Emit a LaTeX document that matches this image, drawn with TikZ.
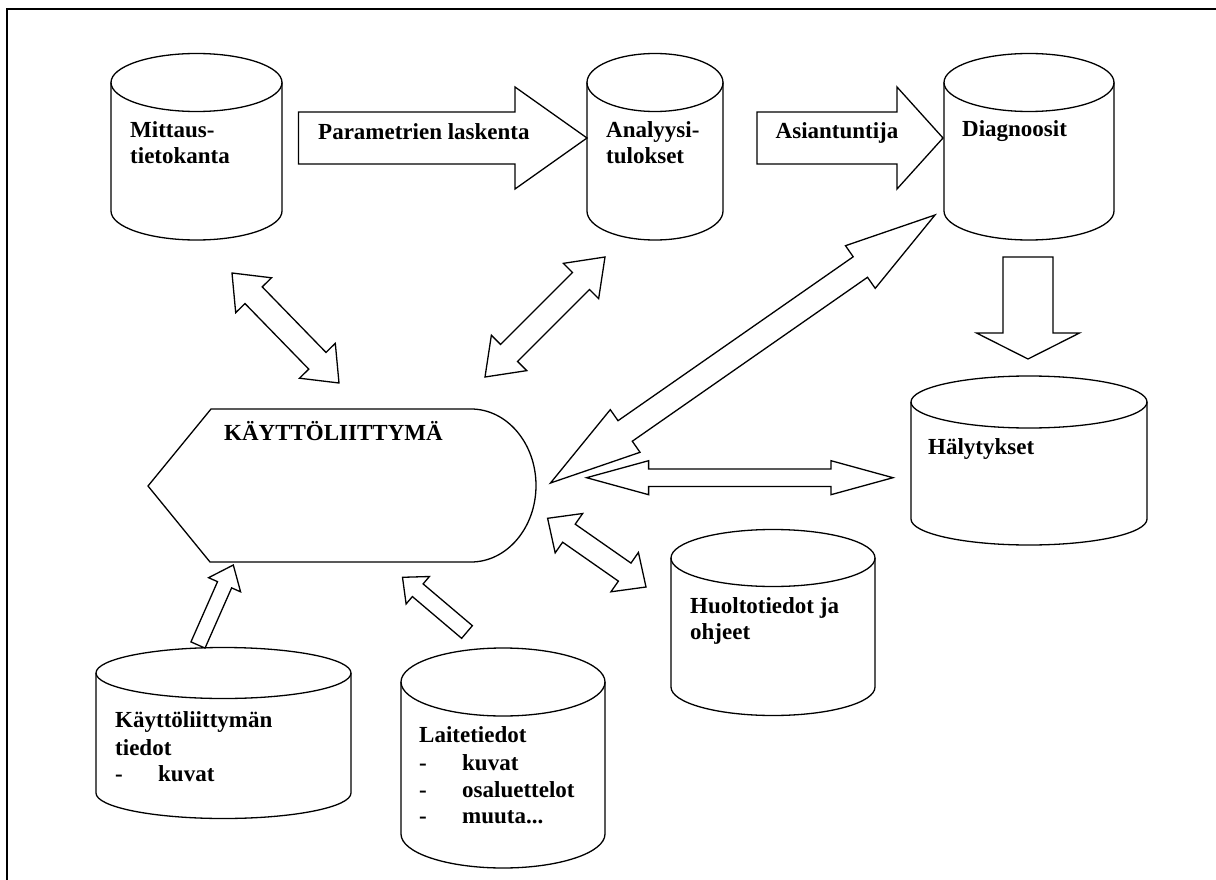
\documentclass[tikz,border=0pt]{standalone}
\usepackage{fontspec}
\setmainfont{Liberation Serif}
\usetikzlibrary{calc}
\tikzset{
  shp/.style={draw=black, line width=1.3pt, line join=miter},
  lbl/.style={anchor=base west, inner sep=0pt, font=\fontsize{23}{26}\selectfont\bfseries},
}
% cylinder: name, cx, top y, bottom y, rx, ry
\newcommand\cyl[6]{%
  \draw[shp] (#2-#5,#3) -- (#2-#5,#4) arc[start angle=180, end angle=360, x radius=#5pt, y radius=#6pt] -- (#2+#5,#3);
  \draw[shp] (#2,#3) ellipse[x radius=#5pt, y radius=#6pt];
  \coordinate (#1) at (#2,{(#3+#4)/2});
}
% single block arrow: tail, tip, shaft half width, head length, head half width
\newcommand\sarr[5]{%
  \coordinate (hb) at ($(#2)!#4!(#1)$);
  \draw[shp] (#2) -- ($(hb)!#5!90:(#1)$) -- ($(hb)!#3!90:(#1)$) -- ($(#1)!#3!-90:(#2)$)
    -- ($(#1)!#3!90:(#2)$) -- ($(hb)!#3!-90:(#1)$) -- ($(hb)!#5!-90:(#1)$) -- cycle;
}
% double block arrow: end A, end B, shaft half width, head length, head half width
\newcommand\darr[5]{%
  \coordinate (ha) at ($(#1)!#4!(#2)$);
  \coordinate (hb) at ($(#2)!#4!(#1)$);
  \draw[shp] (#1) -- ($(ha)!#5!90:(#2)$) -- ($(ha)!#3!90:(#2)$) -- ($(hb)!#3!-90:(#1)$)
    -- ($(hb)!#5!-90:(#1)$) -- (#2) -- ($(hb)!#5!90:(#1)$) -- ($(hb)!#3!90:(#1)$)
    -- ($(ha)!#3!-90:(#2)$) -- ($(ha)!#5!-90:(#2)$) -- cycle;
}
\begin{document}
\begin{tikzpicture}[x=1pt,y=-1pt]
\useasboundingbox (0,0) rectangle (1216,880);
\fill[white] (0,0) rectangle (1216,880);
\draw[line width=2.6pt] (7,880) -- (7,9) -- (1216,9);

% cylinders
\cyl{mit}{196.5}{82.5}{211}{85.5}{29}
\cyl{ana}{655}{82.5}{211}{68}{29}
\cyl{dia}{1029}{82.5}{211}{85}{29}
\cyl{hal}{1029}{402}{519}{118}{26}
\cyl{huo}{773}{558}{687}{102}{28.5}
\cyl{kay}{223.5}{673}{793}{127.5}{25.5}
\cyl{lai}{503}{682}{834}{102}{34}

% user interface (display shape)
\draw[shp] (211,409) -- (471,409) arc[start angle=90, end angle=-90, x radius=65pt, y radius=76.5pt] -- (210,562) -- (148,486) -- cycle;
\coordinate (ui) at (340,486);

% arrow end points
\coordinate (a1t) at (298.5,138); \coordinate (a1h) at (587,138);
\coordinate (a2t) at (757,138);   \coordinate (a2h) at (943,138);
\coordinate (a3t) at (1028,257);  \coordinate (a3h) at (1028,359);
\coordinate (b1a) at (232,273);   \coordinate (b1b) at (339,383);
\coordinate (b2a) at (605,257);   \coordinate (b2b) at (485,377);
\coordinate (b3a) at (935,215);   \coordinate (b3b) at (550.5,483);
\coordinate (b4a) at (586.6,477.7); \coordinate (b4b) at (893,477.7);
\coordinate (b5a) at (547.6,518.3); \coordinate (b5b) at (646,587);
\coordinate (c1t) at (198,645);   \coordinate (c1h) at (233.3,565);
\coordinate (c2t) at (467,632);   \coordinate (c2h) at (402.5,577.3);

\sarr{a1t}{a1h}{26pt}{72pt}{51pt}
\sarr{a2t}{a2h}{26pt}{46pt}{51pt}
\sarr{a3t}{a3h}{25pt}{26pt}{51.5pt}
\darr{b1a}{b1b}{12pt}{31pt}{25pt}
\darr{b2a}{b2b}{12pt}{34pt}{25pt}
\darr{b3a}{b3b}{12.5pt}{91pt}{26pt}
\darr{b4a}{b4b}{8.7pt}{62pt}{17pt}
\darr{b5a}{b5b}{11pt}{26pt}{24pt}
\sarr{c1t}{c1h}{7.7pt}{21.6pt}{17.5pt}
\sarr{c2t}{c2h}{8.3pt}{20pt}{18pt}

% labels
\node[lbl] (tmit1) at (130,138) {Mittaus-};
\node[lbl] (tmit2) at (130,164) {tietokanta};
\node[lbl] (tpar) at (318,140) {Parametrien laskenta};
\node[lbl] (tana1) at (606,138) {Analyysi-};
\node[lbl] (tana2) at (606,164) {tulokset};
\node[lbl] (tasi) at (775.5,139) {Asiantuntija};
\node[lbl] (tdia) at (962,137) {Diagnoosit};
\node[lbl] (tui) at (224,440) {KÄYTTÖLIITTYMÄ};
\node[lbl] (thal) at (928,454) {Hälytykset};
\node[lbl] (thuo1) at (690,613) {Huoltotiedot ja};
\node[lbl] (thuo2) at (690,639) {ohjeet};
\node[lbl] (tkay1) at (115,727) {Käyttöliittymän};
\node[lbl] (tkay2) at (115,755) {tiedot};
\node[lbl] (tkay3) at (115,781) {\makebox[43pt][l]{-}kuvat};
\node[lbl] (tlai1) at (419,742) {Laitetiedot};
\node[lbl] (tlai2) at (419,770) {\makebox[43pt][l]{-}kuvat};
\node[lbl] (tlai3) at (419,797) {\makebox[43pt][l]{-}osaluettelot};
\node[lbl] (tlai4) at (419,823) {\makebox[43pt][l]{-}muuta...};
\end{tikzpicture}
\end{document}
